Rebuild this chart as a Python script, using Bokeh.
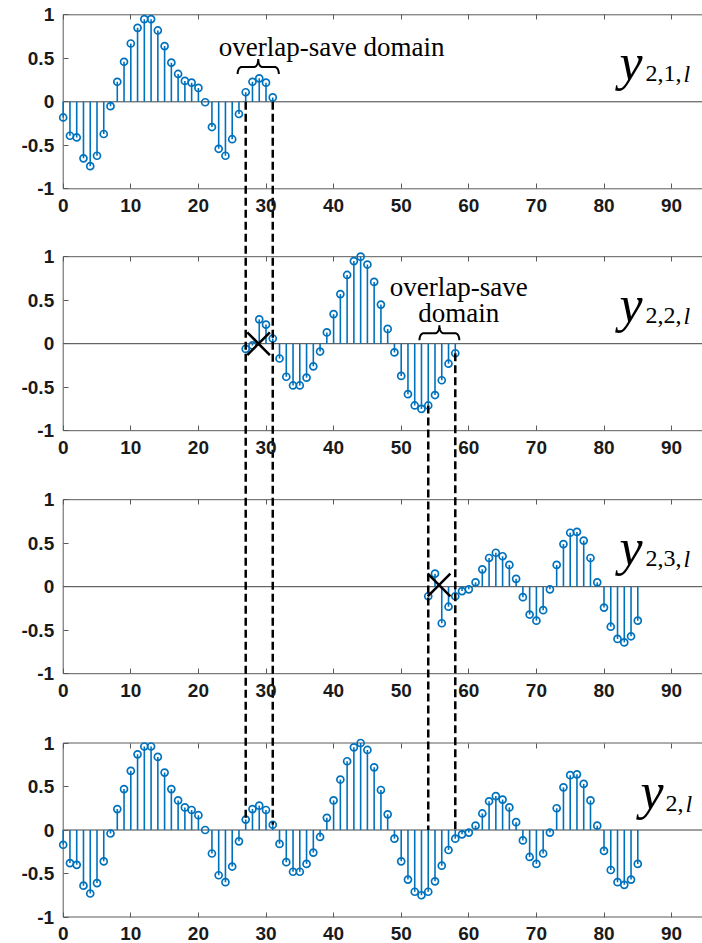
import math
from bokeh.plotting import figure
from bokeh.models import Range1d, LinearAxis, FixedTicker, Label
from bokeh.embed import file_html
from bokeh.resources import INLINE

# ---------------- data ----------------
N1 = list(range(0, 32))
Y1 = [-0.18, -0.39, -0.41, -0.65, -0.74, -0.62, -0.37, -0.05, 0.23, 0.46,
      0.67, 0.85, 0.95, 0.95, 0.82, 0.64, 0.45, 0.32, 0.24, 0.22,
      0.16, -0.005, -0.29, -0.54, -0.62, -0.43, -0.14, 0.11, 0.23, 0.27,
      0.22, 0.05]

N2 = list(range(27, 59))
Y2 = [-0.06, -0.02, 0.28, 0.22, 0.06, -0.17, -0.38, -0.48, -0.48, -0.39,
      -0.26, -0.09, 0.13, 0.34, 0.57, 0.79, 0.95, 1.0, 0.91, 0.71,
      0.45, 0.17, -0.10, -0.37, -0.58, -0.71, -0.75, -0.71, -0.59, -0.42,
      -0.23, -0.11]

N3 = list(range(54, 86))
Y3 = [-0.11, 0.15, -0.42, -0.23, -0.11, -0.05, -0.03, 0.05, 0.20, 0.33,
      0.39, 0.35, 0.25, 0.09, -0.12, -0.32, -0.39, -0.27, -0.03, 0.25,
      0.49, 0.62, 0.63, 0.53, 0.33, 0.05, -0.24, -0.46, -0.60, -0.64,
      -0.57, -0.39]

N4 = list(range(0, 86))
Y4 = [-0.17, -0.38, -0.40, -0.64, -0.73, -0.61, -0.36, -0.04, 0.24, 0.47,
      0.68, 0.87, 0.96, 0.96, 0.84, 0.66, 0.47, 0.34, 0.26, 0.23,
      0.17, 0.0, -0.27, -0.52, -0.60, -0.42, -0.13, 0.12, 0.24, 0.28,
      0.23, 0.06,
      -0.16, -0.37, -0.48, -0.48, -0.39, -0.26, -0.08, 0.14, 0.34, 0.58,
      0.79, 0.95, 1.0, 0.92, 0.72, 0.46, 0.18, -0.10, -0.36, -0.57,
      -0.71, -0.75, -0.71, -0.59, -0.41, -0.23, -0.10,
      -0.05, -0.03, 0.05, 0.19, 0.33, 0.39, 0.35, 0.26, 0.09, -0.12,
      -0.31, -0.39, -0.27, -0.03, 0.25, 0.49, 0.63, 0.64, 0.53, 0.34,
      0.05, -0.24, -0.46, -0.60, -0.63, -0.57, -0.39]

X_TICKS = [0, 10, 20, 30, 40, 50, 60, 70, 80, 90]
Y_TICKS = [-1, -0.5, 0, 0.5, 1]
Y_TICK_LABELS = ["-1", "-0.5", "0", "0.5", "1"]
X_LIM = (0, 95)
Y_LIM = (-1, 1)

PANEL_N = [N1, N2, N3, N4]
PANEL_Y = [Y1, Y2, Y3, Y4]
PANEL_SUB = ["2,1,", "2,2,", "2,3,", "2,"]

# overlap-save boundaries: (source panel, sample index) -> bottom panel
DASH_LINKS = [(0, 27), (0, 31), (1, 54), (1, 58)]
# discarded samples marked with a cross: (panel, x, y)
CROSSES = [(1, 28.9, 0.0), (2, 55.6, 0.02)]
# braces: (panel, x from, x to, bar level)
BRACES = [(0, 25.8, 31.9, 0.40), (1, 52.7, 58.6, 0.12)]

# ---------------- layout ----------------
W, H = 702, 943
PX_X0 = 62.7          # pixel column of x = 0
PX_PER_X = 6.76
PX_PER_Y = 87.0
ZERO_PX = [101.3, 343.2, 586.2, 829.5]   # pixel row of y = 0 for each panel

BLUE = "#0072BD"
AXC = "#5a5a5a"
TXT = "#1a1a1a"

x_start = -PX_X0 / PX_PER_X
x_end = (W - PX_X0) / PX_PER_X
Z4 = ZERO_PX[3]

p = figure(width=W, height=H, output_backend="svg", toolbar_location=None,
           x_axis_location=None, y_axis_location=None,
           x_range=Range1d(x_start, x_end),
           y_range=Range1d((Z4 - H) / PX_PER_Y, Z4 / PX_PER_Y),
           min_border=0, outline_line_color=None,
           background_fill_color="white", border_fill_color="white")
for g in p.grid:
    g.visible = False

offsets = []
for k, z in enumerate(ZERO_PX):
    rn = f"p{k}"
    p.extra_y_ranges[rn] = Range1d((z - H) / PX_PER_Y, z / PX_PER_Y)
    offsets.append((Z4 - z) / PX_PER_Y)

def style_axis(ax, labels=True):
    ax.axis_line_color = None
    ax.major_tick_line_color = AXC
    ax.major_tick_line_width = 1
    ax.major_tick_in = 5
    ax.major_tick_out = 0
    ax.minor_tick_line_color = None
    ax.major_label_text_font = "Liberation Sans"
    ax.major_label_text_font_style = "bold"
    ax.major_label_text_font_size = "19px"
    ax.major_label_text_color = TXT if labels else None

for k in range(4):
    rn = f"p{k}"
    ya = LinearAxis(y_range_name=rn, fixed_location=X_LIM[0],
                    ticker=FixedTicker(ticks=Y_TICKS),
                    major_label_overrides={t: s for t, s in zip(Y_TICKS, Y_TICK_LABELS)})
    style_axis(ya)
    ya.major_label_standoff = 9
    p.add_layout(ya, "left")

    xa = LinearAxis(y_range_name=rn, fixed_location=Y_LIM[0],
                    ticker=FixedTicker(ticks=X_TICKS))
    style_axis(xa)
    xa.major_label_standoff = 10
    p.add_layout(xa, "below")

    xt = LinearAxis(y_range_name=rn, fixed_location=Y_LIM[1],
                    ticker=FixedTicker(ticks=X_TICKS))
    style_axis(xt, labels=False)
    p.add_layout(xt, "above")

    # box
    p.quad(left=[X_LIM[0]], right=[X_LIM[1]], bottom=[Y_LIM[0]], top=[Y_LIM[1]],
           fill_color=None, line_color=AXC, line_width=1, y_range_name=rn)
    # baseline
    p.segment(x0=[X_LIM[0]], y0=[0], x1=[X_LIM[1]], y1=[0],
              line_color="#404040", line_width=1, y_range_name=rn)
    # stems
    n, y = PANEL_N[k], PANEL_Y[k]
    p.segment(x0=n, y0=[0] * len(n), x1=n, y1=y, line_color=BLUE,
              line_width=1.6, y_range_name=rn)
    p.scatter(n, y, marker="circle", size=7, fill_color=None,
              line_color=BLUE, line_width=1.7, y_range_name=rn)

# dashed boundary lines (main range = bottom panel coordinates)
def value_at(k, nn):
    return PANEL_Y[k][PANEL_N[k].index(nn)]

dx, dy0, dy1 = [], [], []
for k, nn in DASH_LINKS:
    dx.append(nn)
    dy0.append(offsets[k] + min(0.0, value_at(k, nn)))
    dy1.append(offsets[3] + max(0.0, value_at(3, nn)))
p.segment(x0=dx, y0=dy0, x1=dx, y1=dy1, line_color="black",
          line_width=2.5, line_dash="8 4")

# crosses
for k, cx, cy in CROSSES:
    p.scatter([cx], [cy], marker="x", size=32, line_color="black",
              line_width=2.5, y_range_name=f"p{k}")

# braces
def brace(x0, x1, ybar, steps=12):
    w = (x1 - x0) * PX_PER_X
    xm = w / 2
    re, he = 4.0, 7.0     # end curl
    rt, ht = 4.0, 8.0     # tip
    pts = []
    for i in range(steps + 1):
        t = i / steps * math.pi / 2
        pts.append((re - re * math.cos(t), -he + he * math.sin(t)))
    for i in range(steps + 1):
        t = i / steps * math.pi / 2
        pts.append((xm - rt + rt * math.sin(t), ht - ht * math.cos(t)))
    right = [(w - px, py) for px, py in reversed(pts)]
    pts = pts + right
    xs = [x0 + px / PX_PER_X for px, _ in pts]
    ys = [ybar + py / PX_PER_Y for _, py in pts]
    return xs, ys

for k, bx0, bx1, by in BRACES:
    xs, ys = brace(bx0, bx1, by)
    p.line(xs, ys, line_color="black", line_width=2, y_range_name=f"p{k}")

# texts
serif = "Liberation Serif"
p.add_layout(Label(x=39.7, y=0.63, y_range_name="p0", text="overlap-save domain",
                   text_font=serif, text_font_size="27px", text_color="black",
                   text_align="center", text_baseline="alphabetic"))
p.add_layout(Label(x=58.5, y=0.647, y_range_name="p1", text="overlap-save",
                   text_font=serif, text_font_size="27px", text_color="black",
                   text_align="center", text_baseline="alphabetic"))
p.add_layout(Label(x=58.5, y=0.35, y_range_name="p1", text="domain",
                   text_font=serif, text_font_size="27px", text_color="black",
                   text_align="center", text_baseline="alphabetic"))

def px2x(px):
    return (px - PX_X0) / PX_PER_X

for k in range(4):
    rn = f"p{k}"
    if k < 3:
        xy, xs_ = 619, 645
        yb, sb = 0.45, 0.32
    else:
        xy, xs_ = 640, 665
        yb, sb = 0.447, 0.30
    sub_w = 9 * len(PANEL_SUB[k])   # approx width of the upright part at 24px
    p.add_layout(Label(x=px2x(xy), y=yb, y_range_name=rn, text="y",
                       text_font=serif, text_font_style="italic",
                       text_font_size="52px", text_color="black",
                       text_baseline="alphabetic"))
    p.add_layout(Label(x=px2x(xs_), y=sb, y_range_name=rn, text=PANEL_SUB[k],
                       text_font=serif, text_font_size="24px", text_color="black",
                       text_baseline="alphabetic"))
    p.add_layout(Label(x=px2x(xs_ + sub_w + 2), y=sb, y_range_name=rn, text="l",
                       text_font=serif, text_font_style="italic",
                       text_font_size="24px", text_color="black",
                       text_baseline="alphabetic"))

open("out.html", "w").write(file_html(p, INLINE))
